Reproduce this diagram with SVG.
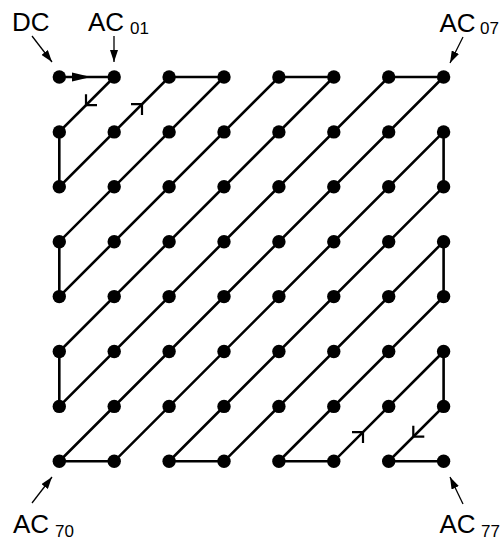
<svg xmlns="http://www.w3.org/2000/svg" width="501" height="540" viewBox="0 0 501 540">
<style>
.lbl{font-family:"Liberation Sans",Arial,sans-serif;font-size:26px;fill:#000}
.sub{font-size:17px}
.path{fill:none;stroke:#000;stroke-width:2.6;stroke-linejoin:miter}
.barb{fill:none;stroke:#000;stroke-width:2.2}
.ptr{stroke:#000;stroke-width:1.3;fill:none}
circle{fill:#000}
</style>
<defs>
<marker id="ah" viewBox="0 0 12 8" refX="12" refY="4" markerWidth="12" markerHeight="8" markerUnits="userSpaceOnUse" orient="auto"><path d="M0,0 L12,4 L0,8 Z" fill="#000"/></marker>
</defs>
<g id="connectors">
<polyline class="path" points="59.3,77 114.2,77 59.3,131.9 59.3,186.8 169.1,77 224,77 59.3,241.7 59.3,296.6 278.9,77 333.8,77 59.3,351.5 59.3,406.4 388.7,77 443.6,77 59.3,461.3 114.2,461.3 443.6,131.9 443.6,186.8 169.1,461.3 224,461.3 443.6,241.7 443.6,296.6 278.9,461.3 333.8,461.3 443.6,351.5 443.6,406.4 388.7,461.3 443.6,461.3"/>
<polygon points="72,72.5 91,77 72,81.5" fill="#000"/>
<polyline class="barb" points="86,94.2 86,105.2 97,105.2"/>
<polyline class="barb" points="131,104.1 142,104.1 142,115.1"/>
<polyline class="barb" points="352,432.1 363,432.1 363,443.1"/>
<polyline class="barb" points="413.3,425.7 413.3,436.7 424.3,436.7"/>
<line class="ptr" x1="32" y1="36" x2="52" y2="62" marker-end="url(#ah)"/>
<line class="ptr" x1="114" y1="36" x2="114" y2="62" marker-end="url(#ah)"/>
<line class="ptr" x1="463" y1="37" x2="450" y2="63" marker-end="url(#ah)"/>
<line class="ptr" x1="32" y1="503" x2="52" y2="477" marker-end="url(#ah)"/>
<line class="ptr" x1="463" y1="504" x2="450" y2="477" marker-end="url(#ah)"/>
</g>
<g id="labels">
<text class="lbl" x="12" y="31">DC</text>
<text class="lbl" x="88" y="31">AC<tspan class="sub" x="130" y="33.5">01</tspan></text>
<text class="lbl" x="439.5" y="31.5">AC<tspan class="sub" x="480" y="34">07</tspan></text>
<text class="lbl" x="13" y="533">AC<tspan class="sub" x="55" y="536.5">70</tspan></text>
<text class="lbl" x="439.5" y="533">AC<tspan class="sub" x="481" y="536.5">77</tspan></text>
</g>
<g id="r0"><g id="n00"><circle cx="59.3" cy="77" r="6.7"/></g><g id="n01"><circle cx="114.2" cy="77" r="6.7"/></g><g id="n02"><circle cx="169.1" cy="77" r="6.7"/></g><g id="n03"><circle cx="224" cy="77" r="6.7"/></g><g id="n04"><circle cx="278.9" cy="77" r="6.7"/></g><g id="n05"><circle cx="333.8" cy="77" r="6.7"/></g><g id="n06"><circle cx="388.7" cy="77" r="6.7"/></g><g id="n07"><circle cx="443.6" cy="77" r="6.7"/></g></g>
<g id="r1"><g id="n10"><circle cx="59.3" cy="131.9" r="6.7"/></g><g id="n11"><circle cx="114.2" cy="131.9" r="6.7"/></g><g id="n12"><circle cx="169.1" cy="131.9" r="6.7"/></g><g id="n13"><circle cx="224" cy="131.9" r="6.7"/></g><g id="n14"><circle cx="278.9" cy="131.9" r="6.7"/></g><g id="n15"><circle cx="333.8" cy="131.9" r="6.7"/></g><g id="n16"><circle cx="388.7" cy="131.9" r="6.7"/></g><g id="n17"><circle cx="443.6" cy="131.9" r="6.7"/></g></g>
<g id="r2"><g id="n20"><circle cx="59.3" cy="186.8" r="6.7"/></g><g id="n21"><circle cx="114.2" cy="186.8" r="6.7"/></g><g id="n22"><circle cx="169.1" cy="186.8" r="6.7"/></g><g id="n23"><circle cx="224" cy="186.8" r="6.7"/></g><g id="n24"><circle cx="278.9" cy="186.8" r="6.7"/></g><g id="n25"><circle cx="333.8" cy="186.8" r="6.7"/></g><g id="n26"><circle cx="388.7" cy="186.8" r="6.7"/></g><g id="n27"><circle cx="443.6" cy="186.8" r="6.7"/></g></g>
<g id="r3"><g id="n30"><circle cx="59.3" cy="241.7" r="6.7"/></g><g id="n31"><circle cx="114.2" cy="241.7" r="6.7"/></g><g id="n32"><circle cx="169.1" cy="241.7" r="6.7"/></g><g id="n33"><circle cx="224" cy="241.7" r="6.7"/></g><g id="n34"><circle cx="278.9" cy="241.7" r="6.7"/></g><g id="n35"><circle cx="333.8" cy="241.7" r="6.7"/></g><g id="n36"><circle cx="388.7" cy="241.7" r="6.7"/></g><g id="n37"><circle cx="443.6" cy="241.7" r="6.7"/></g></g>
<g id="r4"><g id="n40"><circle cx="59.3" cy="296.6" r="6.7"/></g><g id="n41"><circle cx="114.2" cy="296.6" r="6.7"/></g><g id="n42"><circle cx="169.1" cy="296.6" r="6.7"/></g><g id="n43"><circle cx="224" cy="296.6" r="6.7"/></g><g id="n44"><circle cx="278.9" cy="296.6" r="6.7"/></g><g id="n45"><circle cx="333.8" cy="296.6" r="6.7"/></g><g id="n46"><circle cx="388.7" cy="296.6" r="6.7"/></g><g id="n47"><circle cx="443.6" cy="296.6" r="6.7"/></g></g>
<g id="r5"><g id="n50"><circle cx="59.3" cy="351.5" r="6.7"/></g><g id="n51"><circle cx="114.2" cy="351.5" r="6.7"/></g><g id="n52"><circle cx="169.1" cy="351.5" r="6.7"/></g><g id="n53"><circle cx="224" cy="351.5" r="6.7"/></g><g id="n54"><circle cx="278.9" cy="351.5" r="6.7"/></g><g id="n55"><circle cx="333.8" cy="351.5" r="6.7"/></g><g id="n56"><circle cx="388.7" cy="351.5" r="6.7"/></g><g id="n57"><circle cx="443.6" cy="351.5" r="6.7"/></g></g>
<g id="r6"><g id="n60"><circle cx="59.3" cy="406.4" r="6.7"/></g><g id="n61"><circle cx="114.2" cy="406.4" r="6.7"/></g><g id="n62"><circle cx="169.1" cy="406.4" r="6.7"/></g><g id="n63"><circle cx="224" cy="406.4" r="6.7"/></g><g id="n64"><circle cx="278.9" cy="406.4" r="6.7"/></g><g id="n65"><circle cx="333.8" cy="406.4" r="6.7"/></g><g id="n66"><circle cx="388.7" cy="406.4" r="6.7"/></g><g id="n67"><circle cx="443.6" cy="406.4" r="6.7"/></g></g>
<g id="r7"><g id="n70"><circle cx="59.3" cy="461.3" r="6.7"/></g><g id="n71"><circle cx="114.2" cy="461.3" r="6.7"/></g><g id="n72"><circle cx="169.1" cy="461.3" r="6.7"/></g><g id="n73"><circle cx="224" cy="461.3" r="6.7"/></g><g id="n74"><circle cx="278.9" cy="461.3" r="6.7"/></g><g id="n75"><circle cx="333.8" cy="461.3" r="6.7"/></g><g id="n76"><circle cx="388.7" cy="461.3" r="6.7"/></g><g id="n77"><circle cx="443.6" cy="461.3" r="6.7"/></g></g>
</svg>
